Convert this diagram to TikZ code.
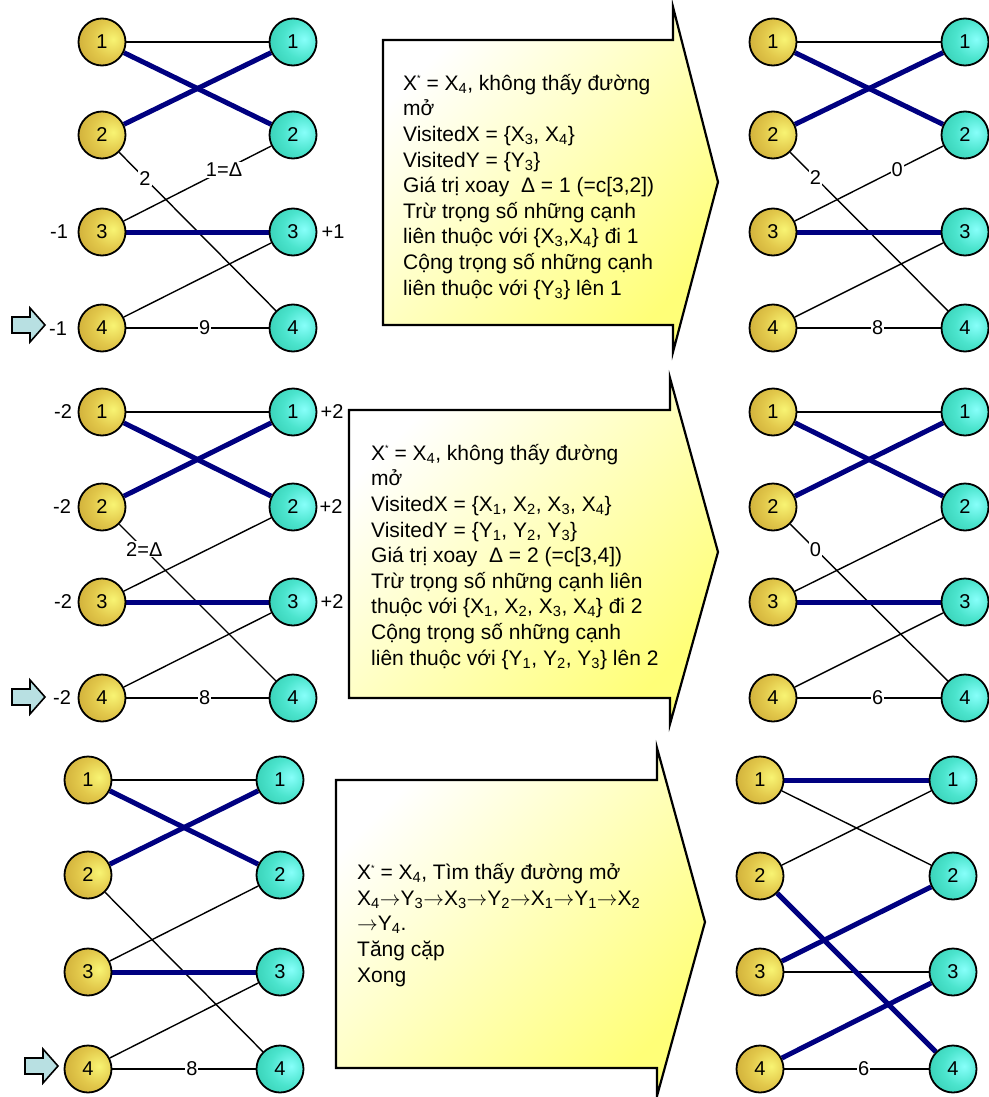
\documentclass[tikz,border=0pt]{standalone}
\usepackage{fontspec}
\setmainfont{Liberation Sans}
\definecolor{navy}{RGB}{0,0,128}
\definecolor{goldin}{RGB}{248,244,115}
\definecolor{goldmid}{RGB}{226,200,75}
\definecolor{goldout}{RGB}{188,148,38}
\definecolor{tealin}{RGB}{135,255,250}
\definecolor{tealmid}{RGB}{75,228,205}
\definecolor{tealout}{RGB}{35,188,158}
\definecolor{boxyellow}{RGB}{255,255,120}
\definecolor{boxmid}{RGB}{255,255,212}
\definecolor{arrowblue}{RGB}{184,224,226}
\pgfdeclareradialshading{goldball}{\pgfpoint{12bp}{3bp}}{color(0bp)=(goldin); color(20bp)=(goldmid); color(52bp)=(goldout); color(100bp)=(goldout)}
\pgfdeclareradialshading{tealball}{\pgfpoint{12bp}{3bp}}{color(0bp)=(tealin); color(20bp)=(tealmid); color(52bp)=(tealout); color(100bp)=(tealout)}
\pgfdeclarelayer{bg}
\pgfsetlayers{bg,main}
\newcommand\xstar{\raisebox{0.75ex}{\fontsize{9}{9}\selectfont *}}
\newcommand\rarr{\ensuremath{\rightarrow}}
\tikzset{
  basefont/.style={font=\fontsize{20}{24}\selectfont},
  xnode/.style={circle, draw=black, line width=1.8pt, minimum size=47pt, inner sep=0pt, shading=goldball, basefont},
  ynode/.style={circle, draw=black, line width=1.8pt, minimum size=47pt, inner sep=0pt, shading=tealball, basefont},
  medge/.style={draw=black, line width=1.4pt},
  tedge/.style={draw=navy, line width=5pt},
  elab/.style={fill=white, inner sep=1pt, basefont},
  slab/.style={inner sep=0pt, basefont},
  boxtext/.style={anchor=base west, align=left, inner sep=0pt, font=\fontsize{21}{25.6}\selectfont},
  bigarrow/.style={draw=black, line width=2.2pt, line join=miter, top color=white, middle color=boxmid, bottom color=boxyellow, shading angle=45},
  sarrow/.style={draw=black, line width=1.6pt, fill=arrowblue, line join=miter}
}
\newcommand\mkpanel[7]{%
  \foreach \i/\yy in {1/#4,2/#5,3/#6,4/#7}{%
    \node[xnode] (#1x\i) at (#2,\yy) {\i};
    \node[ynode] (#1y\i) at (#3,\yy) {\i};
  }}
\newcommand\sidearrow[2]{%
  \draw[sarrow] (#1,#2) ++(0,-8) -- ++(18,0) -- ++(0,-9) -- ++(15,17) -- ++(-15,17) -- ++(0,-9) -- ++(-18,0) -- cycle;}
\begin{document}
\begin{tikzpicture}[x=1pt,y=-1pt]
\useasboundingbox (0,0) rectangle (988,1097);

% big arrows
\path[bigarrow] (383,40) -- (673,40) -- (673,7) -- (718,182) -- (673,352) -- (673,325) -- (383,325) -- cycle;
\path[bigarrow] (349,410) -- (670,410) -- (670,378) -- (718,552) -- (670,724) -- (670,698) -- (349,698) -- cycle;
\path[bigarrow] (336,780) -- (657,780) -- (657,748) -- (705,922) -- (657,1096) -- (657,1068) -- (336,1068) -- cycle;

\node[boxtext] (t1) at (403,295) {X\xstar{} = X\textsubscript{4}, không thấy đường\\
mở\\
VisitedX = \{X\textsubscript{3}, X\textsubscript{4}\}\\
VisitedY = \{Y\textsubscript{3}\}\\
Giá trị xoay~ Δ = 1 (=c[3,2])\\
Trừ trọng số những cạnh\\
liên thuộc với \{X\textsubscript{3},X\textsubscript{4}\} đi 1\\
Cộng trọng số những cạnh\\
liên thuộc với \{Y\textsubscript{3}\} lên 1};

\node[boxtext] (t2) at (371,665) {X\xstar{} = X\textsubscript{4}, không thấy đường\\
mở\\
VisitedX = \{X\textsubscript{1}, X\textsubscript{2}, X\textsubscript{3}, X\textsubscript{4}\}\\
VisitedY = \{Y\textsubscript{1}, Y\textsubscript{2}, Y\textsubscript{3}\}\\
Giá trị xoay~ Δ = 2 (=c[3,4])\\
Trừ trọng số những cạnh liên\\
thuộc với \{X\textsubscript{1}, X\textsubscript{2}, X\textsubscript{3}, X\textsubscript{4}\} đi 2\\
Cộng trọng số những cạnh\\
liên thuộc với \{Y\textsubscript{1}, Y\textsubscript{2}, Y\textsubscript{3}\} lên 2};

\node[boxtext] (t3) at (357,982) {X\xstar{} = X\textsubscript{4}, Tìm thấy đường mở\\
X\textsubscript{4}\rarr Y\textsubscript{3}\rarr X\textsubscript{3}\rarr Y\textsubscript{2}\rarr X\textsubscript{1}\rarr Y\textsubscript{1}\rarr X\textsubscript{2}\\
\rarr Y\textsubscript{4}.\\
Tăng cặp\\
Xong};

% panels
\mkpanel{A}{102}{293}{42}{135}{232}{328}
\mkpanel{B}{773}{965}{42}{135}{232}{328}
\mkpanel{C}{102}{293}{412}{507}{602}{698}
\mkpanel{D}{773}{965}{412}{507}{602}{698}
\mkpanel{E}{88}{280}{780}{875}{972}{1069}
\mkpanel{F}{760}{953}{780}{876}{972}{1069}

\begin{pgfonlayer}{bg}
% panel A
\draw[medge] (Ax1) -- (Ay1);
\draw[medge] (Ax2) -- node[elab,pos=0.165]{2} (Ay4);
\draw[medge] (Ax3) -- node[elab,pos=0.68]{1=Δ} (Ay2);
\draw[medge] (Ax4) -- (Ay3);
\draw[medge] (Ax4) -- node[elab,pos=0.55]{9} (Ay4);
\draw[tedge] (Ax1) -- (Ay2);
\draw[tedge] (Ax2) -- (Ay1);
\draw[tedge] (Ax3) -- (Ay3);
% panel B
\draw[medge] (Bx1) -- (By1);
\draw[medge] (Bx2) -- node[elab,pos=0.16]{2} (By4);
\draw[medge] (Bx3) -- node[elab,pos=0.69]{0} (By2);
\draw[medge] (Bx4) -- (By3);
\draw[medge] (Bx4) -- node[elab,pos=0.56]{8} (By4);
\draw[tedge] (Bx1) -- (By2);
\draw[tedge] (Bx2) -- (By1);
\draw[tedge] (Bx3) -- (By3);
% panel C
\draw[medge] (Cx1) -- (Cy1);
\draw[medge] (Cx2) -- node[elab,pos=0.16]{2=Δ} (Cy4);
\draw[medge] (Cx3) -- (Cy2);
\draw[medge] (Cx4) -- (Cy3);
\draw[medge] (Cx4) -- node[elab,pos=0.55]{8} (Cy4);
\draw[tedge] (Cx1) -- (Cy2);
\draw[tedge] (Cx2) -- (Cy1);
\draw[tedge] (Cx3) -- (Cy3);
% panel D
\draw[medge] (Dx1) -- (Dy1);
\draw[medge] (Dx2) -- node[elab,pos=0.16]{0} (Dy4);
\draw[medge] (Dx3) -- (Dy2);
\draw[medge] (Dx4) -- (Dy3);
\draw[medge] (Dx4) -- node[elab,pos=0.56]{6} (Dy4);
\draw[tedge] (Dx1) -- (Dy2);
\draw[tedge] (Dx2) -- (Dy1);
\draw[tedge] (Dx3) -- (Dy3);
% panel E
\draw[medge] (Ex1) -- (Ey1);
\draw[medge] (Ex2) -- (Ey4);
\draw[medge] (Ex3) -- (Ey2);
\draw[medge] (Ex4) -- (Ey3);
\draw[medge] (Ex4) -- node[elab,pos=0.555]{8} (Ey4);
\draw[tedge] (Ex1) -- (Ey2);
\draw[tedge] (Ex2) -- (Ey1);
\draw[tedge] (Ex3) -- (Ey3);
% panel F
\draw[medge] (Fx1) -- (Fy2);
\draw[medge] (Fx2) -- (Fy1);
\draw[medge] (Fx3) -- (Fy3);
\draw[medge] (Fx4) -- node[elab,pos=0.55]{6} (Fy4);
\draw[tedge] (Fx1) -- (Fy1);
\draw[tedge] (Fx2) -- (Fy4);
\draw[tedge] (Fx3) -- (Fy2);
\draw[tedge] (Fx4) -- (Fy3);
\end{pgfonlayer}

% side labels
\node[slab] (la3) at (59,232) {-1};
\node[slab] (la4) at (58,329) {-1};
\node[slab] (ra3) at (333,232) {+1};
\node[slab] (lc1) at (63,412) {-2};
\node[slab] (lc2) at (62,507) {-2};
\node[slab] (lc3) at (63,602) {-2};
\node[slab] (lc4) at (62,698) {-2};
\node[slab] (rc1) at (332,412) {+2};
\node[slab] (rc2) at (331,507) {+2};
\node[slab] (rc3) at (332,602) {+2};

% start arrows
\sidearrow{12}{325}
\sidearrow{12}{697}
\sidearrow{25}{1066}
\end{tikzpicture}
\end{document}
